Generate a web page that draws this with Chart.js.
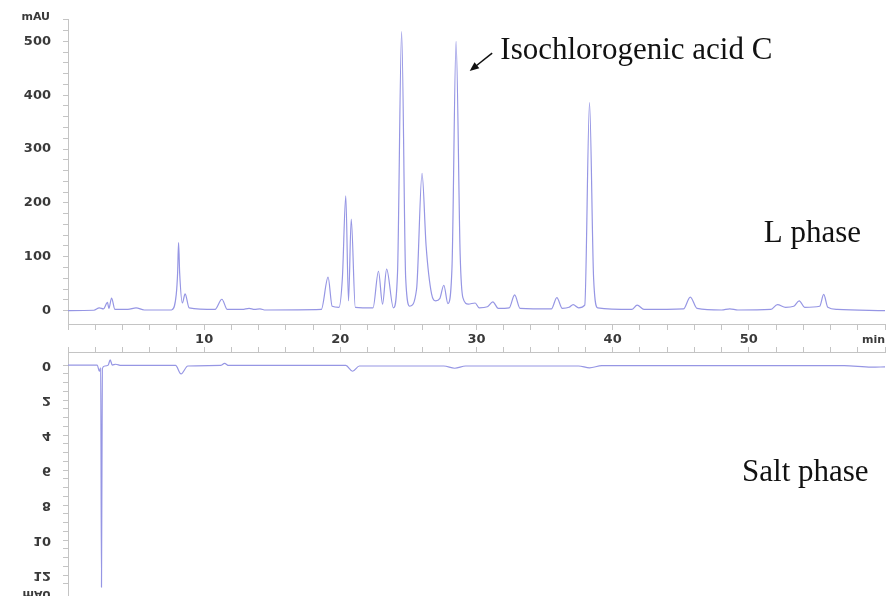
<!DOCTYPE html>
<html lang="en">
<head>
<meta charset="UTF-8">
<title>HPLC chromatogram</title>
<script src="https://cdn.jsdelivr.net/npm/chart.js"></script>
<style>
  body { margin: 0; background: #fff; }
  #wrap { position: relative; width: 887px; height: 596px; overflow: hidden; }
  canvas { position: absolute; left: 0; }
  #topChart { top: 0; }
  #saltChart { top: 344px; }
</style>
</head>
<body>
<div id="wrap">
  <canvas id="topChart" width="887" height="352"></canvas>
  <canvas id="saltChart" width="887" height="252"></canvas>
</div>
<script>
// L phase trace (retention time in min, absorbance in mAU)
const lTime = [0, 1.9, 2.3, 2.6, 2.9, 3.0, 3.2, 3.45, 4.4, 5.0, 5.6, 7.6, 7.95, 8.05, 8.12, 8.2, 8.4, 8.6, 8.9,
  10.8, 11.3, 11.7, 12.8, 13.3, 13.7, 14.1, 14.5, 18.6, 19.1, 19.4, 19.9, 20.15, 20.4, 20.6, 20.8, 21.1,
  22.4, 22.8, 23.1, 23.4, 23.9, 24.2, 24.5, 24.8, 25.1, 25.6, 26.0, 26.3, 26.7, 27.0, 27.3, 27.6, 27.9,
  28.2, 28.5, 28.8, 29.0, 29.4, 29.9, 30.2, 30.8, 31.2, 31.6, 32.4, 32.8, 33.2, 35.5, 35.9, 36.3, 36.8,
  37.1, 37.5, 37.95, 38.3, 38.6, 38.9, 41.4, 41.8, 42.3, 45.2, 45.7, 46.2, 48.0, 48.6, 49.2, 51.6, 52.1,
  52.7, 53.3, 53.7, 54.1, 55.2, 55.5, 55.8, 56.5, 60];
const lMAU = [0, 0.5, 5, 3, 15, 4, 23, 2, 2, 5, 1, 1, 30, 70, 126, 70, 14, 31, 5,
  2, 21, 2, 2, 4, 2, 3, 1, 2, 62, 8, 6, 60, 213, 18, 170, 6,
  5, 73, 12, 77, 5, 70, 518, 60, 8, 40, 255, 120, 31, 18, 22, 47, 13,
  80, 500, 104, 24, 12, 14, 5, 7, 16, 4, 5, 29, 4, 3, 24, 4, 6,
  11, 5, 10, 386, 60, 5, 2, 10, 2, 3, 25, 4, 1, 3, 1, 2, 11,
  6, 8, 18, 6, 8, 30, 6, 2, 0];

// Salt phase trace (plotted upside down in the figure)
const saltTime = [0, 2.15, 2.3, 2.4, 2.46, 2.52, 2.7, 2.95, 3.1, 3.25, 3.5, 3.9, 7.9, 8.3, 8.8, 11.2, 11.5, 11.8,
  20.4, 20.9, 21.4, 27.6, 28.4, 29.2, 37.5, 38.3, 39.2, 57, 59, 60];
const saltMAU = [0, 0, 0.35, 0.15, 12.7, 0.2, 0.05, 0, -0.3, 0, -0.05, 0.02, 0.02, 0.5, 0.05, 0.02, -0.1, 0.02,
  0.02, 0.35, 0.05, 0.05, 0.18, 0.05, 0.05, 0.16, 0.03, 0.03, 0.12, 0.1];

const topTickLabels = [0, 100, 200, 300, 400, 500];
const timeTickLabels = [10, 20, 30, 40, 50];
const saltTickLabels = [0, 2, 4, 6, 8, 10, 12];

const traceColor = 'rgb(150,150,228)';
const axisColor = '#c4c4c4';
const labelColor = '#3a3a3a';
const tickFont = { family: 'DejaVu Sans', size: 13, weight: 'bold' };

function toPoints(xs, ys) {
  return xs.map((x, i) => ({ x: x, y: ys[i] }));
}

// text drawn on top of the charts, anchored in data units
const notes = {
  compound: { text: 'Isochlorogenic acid C', x: 31.75, y: 468 },
  arrowTip: { x: 29.5, y: 445 },
  arrowTail: { x: 31.15, y: 478 },
  lPhase: { text: 'L phase', x: 51.1, y: 128 },
  salt: { text: 'Salt phase', x: 49.5, y: 6.6 }
};

const topNotes = {
  id: 'topNotes',
  afterDraw(chart) {
    const ctx = chart.ctx, xs = chart.scales.x, ys = chart.scales.y;
    ctx.save();
    ctx.fillStyle = '#111';
    ctx.font = '31px "Liberation Serif", "Times New Roman", serif';
    ctx.textAlign = 'left';
    ctx.textBaseline = 'alphabetic';
    ctx.fillText(notes.compound.text, xs.getPixelForValue(notes.compound.x), ys.getPixelForValue(notes.compound.y));
    ctx.fillText(notes.lPhase.text, xs.getPixelForValue(notes.lPhase.x), ys.getPixelForValue(notes.lPhase.y));

    // arrow
    const tx = xs.getPixelForValue(notes.arrowTip.x), ty = ys.getPixelForValue(notes.arrowTip.y);
    const sx = xs.getPixelForValue(notes.arrowTail.x), sy = ys.getPixelForValue(notes.arrowTail.y);
    const ang = Math.atan2(ty - sy, tx - sx);
    ctx.strokeStyle = '#111';
    ctx.lineWidth = 1.5;
    ctx.beginPath();
    ctx.moveTo(sx, sy);
    ctx.lineTo(tx - 6 * Math.cos(ang), ty - 6 * Math.sin(ang));
    ctx.stroke();
    ctx.beginPath();
    ctx.moveTo(tx, ty);
    ctx.lineTo(tx - 10 * Math.cos(ang - 0.4), ty - 10 * Math.sin(ang - 0.4));
    ctx.lineTo(tx - 10 * Math.cos(ang + 0.4), ty - 10 * Math.sin(ang + 0.4));
    ctx.closePath();
    ctx.fillStyle = '#111';
    ctx.fill();

    // axis units
    ctx.fillStyle = labelColor;
    ctx.font = 'bold 11px "DejaVu Sans"';
    ctx.textAlign = 'right';
    ctx.textBaseline = 'middle';
    ctx.fillText('mAU', 50, 17);
    ctx.fillText('min', chart.chartArea.right, chart.chartArea.bottom + 16);
    ctx.restore();
  }
};

const saltNotes = {
  id: 'saltNotes',
  afterDraw(chart) {
    const ctx = chart.ctx, xs = chart.scales.x, ys = chart.scales.y;
    ctx.save();
    ctx.fillStyle = '#111';
    ctx.font = '31px "Liberation Serif", "Times New Roman", serif';
    ctx.textAlign = 'left';
    ctx.textBaseline = 'alphabetic';
    ctx.fillText(notes.salt.text, xs.getPixelForValue(notes.salt.x), ys.getPixelForValue(notes.salt.y));

    // tick labels of the flipped panel are mirrored top to bottom
    ctx.fillStyle = labelColor;
    ctx.textAlign = 'right';
    ctx.textBaseline = 'middle';
    const lx = chart.chartArea.left - 17;
    const flipped = (txt, y, font) => {
      ctx.save();
      ctx.font = font;
      ctx.translate(lx, y);
      ctx.scale(1, -1);
      ctx.fillText(txt, 0, 0);
      ctx.restore();
    };
    saltTickLabels.forEach(v => flipped(String(v), ys.getPixelForValue(v), 'bold 13px "DejaVu Sans"'));
    flipped('mAU', ys.getPixelForValue(13.05), 'bold 11px "DejaVu Sans"');
    ctx.restore();
  }
};

new Chart(document.getElementById('topChart'), {
  type: 'line',
  data: {
    datasets: [{
      data: toPoints(lTime, lMAU),
      borderColor: traceColor,
      borderWidth: 1.2,
      pointRadius: 0,
      cubicInterpolationMode: 'monotone'
    }]
  },
  options: {
    responsive: false,
    animation: false,
    layout: { padding: { top: 14, right: 2, left: 0, bottom: 0 } },
    plugins: { legend: { display: false }, tooltip: { enabled: false } },
    scales: {
      x: {
        type: 'linear', min: 0, max: 60,
        afterFit(s) { s.height = 28; },
        afterBuildTicks(s) { s.ticks = s.ticks.filter(t => Math.abs(t.value % 2) < 1e-6); },
        border: { display: true, color: axisColor },
        grid: { drawOnChartArea: false, drawTicks: true, tickLength: 6, color: axisColor },
        ticks: {
          stepSize: 2, autoSkip: false, maxRotation: 0, padding: 2,
          color: labelColor, font: tickFont,
          callback: v => timeTickLabels.includes(v) ? String(v) : ''
        }
      },
      y: {
        min: -25, max: 540,
        afterFit(s) { s.width = 68; },
        afterBuildTicks(s) { s.ticks = s.ticks.filter(t => Math.abs(t.value % 20) < 1e-6); },
        border: { display: true, color: axisColor },
        grid: { drawOnChartArea: false, drawTicks: true, tickLength: 5, color: axisColor },
        ticks: {
          stepSize: 20, autoSkip: false, padding: 12,
          color: labelColor, font: tickFont,
          callback: v => topTickLabels.includes(v) ? String(v) : ''
        }
      }
    }
  },
  plugins: [topNotes]
});

new Chart(document.getElementById('saltChart'), {
  type: 'line',
  data: {
    datasets: [{
      data: toPoints(saltTime, saltMAU),
      borderColor: traceColor,
      borderWidth: 1.2,
      pointRadius: 0,
      cubicInterpolationMode: 'monotone'
    }]
  },
  options: {
    responsive: false,
    animation: false,
    layout: { padding: { top: 0, right: 2, left: 0, bottom: 0 } },
    plugins: { legend: { display: false }, tooltip: { enabled: false } },
    scales: {
      x: {
        type: 'linear', position: 'top', min: 0, max: 60,
        afterFit(s) { s.height = 8; },
        afterBuildTicks(s) { s.ticks = s.ticks.filter(t => Math.abs(t.value % 2) < 1e-6); },
        border: { display: true, color: axisColor },
        grid: { drawOnChartArea: false, drawTicks: true, tickLength: 5, color: axisColor },
        ticks: { stepSize: 2, autoSkip: false, display: false }
      },
      y: {
        reverse: true, min: -0.75, max: 13.2,
        afterFit(s) { s.width = 68; },
        afterBuildTicks(s) { s.ticks = s.ticks.filter(t => Math.abs(t.value % 0.5) < 1e-6); },
        border: { display: true, color: axisColor },
        grid: { drawOnChartArea: false, drawTicks: true, tickLength: 5, color: axisColor },
        ticks: { stepSize: 0.5, autoSkip: false, display: false }
      }
    }
  },
  plugins: [saltNotes]
});
</script>
</body>
</html>
